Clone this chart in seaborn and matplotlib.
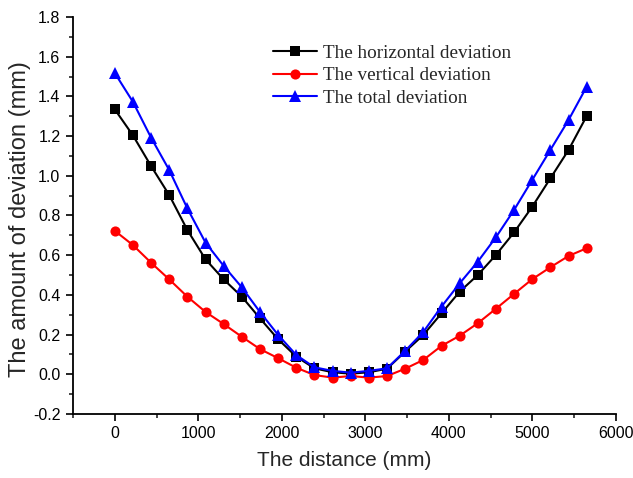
import matplotlib
matplotlib.use("Agg")
import matplotlib.pyplot as plt
import seaborn as sns
import pandas as pd
from matplotlib.ticker import MultipleLocator, FormatStrFormatter

# Measurement positions along the section (mm)
distance = [0, 217, 435, 652, 869, 1087, 1304, 1521, 1738, 1956, 2173, 2390, 2608, 2825,
            3042, 3260, 3477, 3694, 3912, 4129, 4346, 4563, 4781, 4998, 5215, 5433, 5650]

horizontal = [1.335, 1.204, 1.049, 0.903, 0.727, 0.579, 0.478, 0.391, 0.282, 0.176, 0.089,
              0.030, 0.010, 0.003, 0.010, 0.028, 0.114, 0.198, 0.307, 0.416, 0.500, 0.601,
              0.715, 0.844, 0.987, 1.130, 1.301]

vertical = [0.723, 0.651, 0.562, 0.478, 0.391, 0.314, 0.253, 0.189, 0.127, 0.081, 0.033,
            -0.004, -0.017, -0.009, -0.017, -0.009, 0.028, 0.072, 0.143, 0.194, 0.257, 0.330,
            0.405, 0.479, 0.539, 0.596, 0.635]

total = [1.518, 1.373, 1.192, 1.029, 0.836, 0.663, 0.546, 0.438, 0.314, 0.198, 0.097,
         0.035, 0.017, 0.008, 0.017, 0.030, 0.118, 0.213, 0.341, 0.458, 0.567, 0.690,
         0.828, 0.979, 1.130, 1.281, 1.449]

series_names = ["The horizontal deviation", "The vertical deviation", "The total deviation"]
series_values = [horizontal, vertical, total]
colors = ["#000000", "#ff0000", "#0000ff"]
markers = ["s", "o", "^"]
marker_sizes = [6.6, 7.3, 8.0]

sns.set_style("ticks")
plt.rcParams["font.family"] = ["Liberation Sans", "DejaVu Sans"]

fig = plt.figure(figsize=(6.33, 4.78), dpi=100)
ax = fig.add_axes([0.1153, 0.134, 0.8577, 0.8304])

for name, vals, col, mk, ms in zip(series_names, series_values, colors, markers, marker_sizes):
    df = pd.DataFrame({"distance": distance, "deviation": vals})
    sns.lineplot(data=df, x="distance", y="deviation", color=col, marker=mk,
                 markersize=ms, markeredgewidth=0, linewidth=1.5, sort=False,
                 label=name, ax=ax)

ax.set_xlim(-500, 6000)
ax.set_ylim(-0.2, 1.8)
ax.xaxis.set_minor_locator(MultipleLocator(500))
ax.yaxis.set_major_locator(MultipleLocator(0.2))
ax.yaxis.set_minor_locator(MultipleLocator(0.1))
ax.yaxis.set_major_formatter(FormatStrFormatter("%.1f"))
ax.set_xticks([0, 1000, 2000, 3000, 4000, 5000, 6000])

for side in ["top", "right"]:
    ax.spines[side].set_visible(False)
for side in ["left", "bottom"]:
    ax.spines[side].set_linewidth(1.3)
    ax.spines[side].set_color("black")

ax.tick_params(axis="both", which="major", direction="out", length=5, width=1.2,
               labelsize=11.5, colors="black", pad=4)
ax.tick_params(axis="both", which="minor", direction="out", length=3, width=1.2)

ax.set_xlabel("The distance (mm)", fontsize=15, labelpad=7)
ax.set_ylabel("The amount of deviation (mm)", fontsize=17)
ax.yaxis.set_label_coords(-0.078, 0.49)

leg = ax.legend(loc="upper left", bbox_to_anchor=(0.355, 0.95), frameon=False,
                prop={"family": ["Liberation Serif"], "size": 13.75},
                handlelength=2.3, handletextpad=0.3, labelspacing=0.26, borderaxespad=0)

fig.savefig("out.png", dpi=100)
